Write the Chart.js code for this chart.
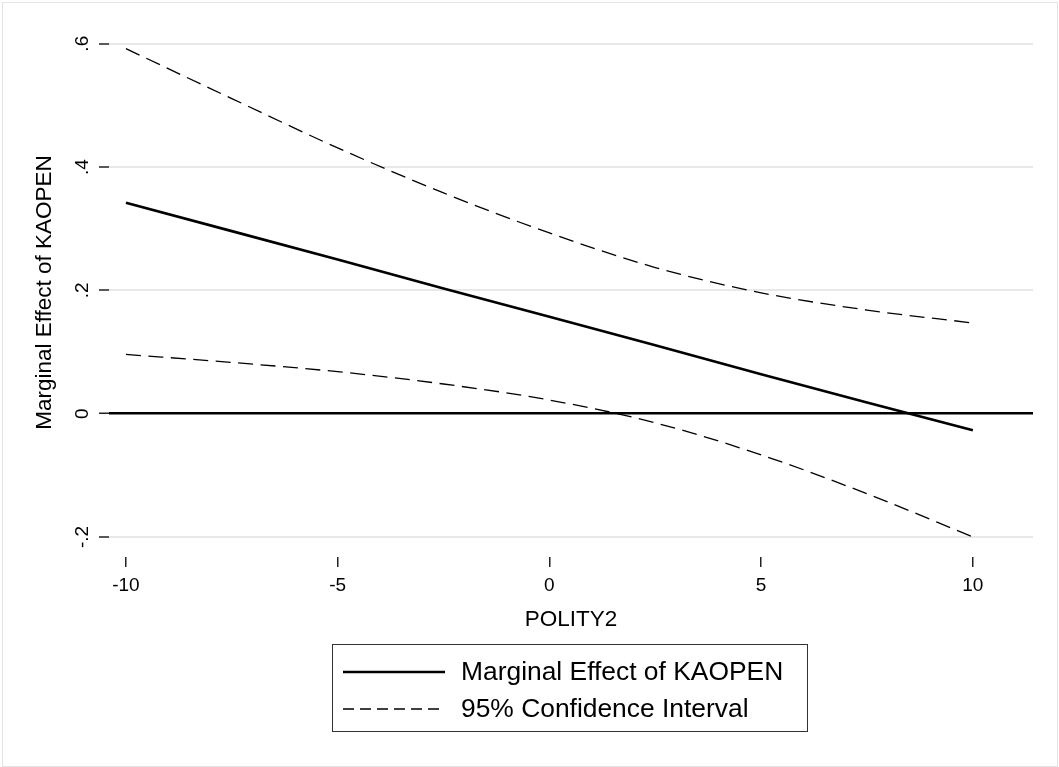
<!DOCTYPE html>
<html>
<head>
<meta charset="utf-8">
<script src="https://cdn.jsdelivr.net/npm/chart.js@4.4.1/dist/chart.umd.min.js"></script>
<style>
  html, body { margin: 0; background: #fff; }
  canvas { display: block; }
</style>
</head>
<body>
<canvas id="grafico" width="1059" height="767"></canvas>
<script>
const polity = [-10, -7.5, -5, -2.5, 0, 2.5, 5, 7.5, 10];
const marginalEffect = [0.342, 0.296, 0.250, 0.203, 0.157, 0.111, 0.064, 0.018, -0.027];
const ciUpper = [0.592, 0.511, 0.431, 0.358, 0.293, 0.237, 0.196, 0.168, 0.147];
const ciLower = [0.096, 0.083, 0.068, 0.048, 0.022, -0.015, -0.067, -0.130, -0.200];
const seriesLabels = ['Marginal Effect of KAOPEN', '95% Confidence Interval'];
const xTicks = [-10, -5, 0, 5, 10];
const yTicks = [-0.2, 0, 0.2, 0.4, 0.6];
const yTickLabels = ['-.2', '0', '.2', '.4', '.6'];

const FONT = "'Liberation Sans', Arial, Helvetica, sans-serif";
const CI_DASH = [15, 7.5];

const toPoints = (values) => polity.map((x, i) => ({ x: x, y: values[i] }));

// white background + thin frame around the whole graph
const frame = {
  id: 'frame',
  beforeDraw(chart) {
    const ctx = chart.ctx;
    ctx.save();
    ctx.fillStyle = '#fff';
    ctx.fillRect(0, 0, chart.width, chart.height);
    ctx.strokeStyle = '#e4e4e4';
    ctx.lineWidth = 1;
    ctx.strokeRect(2.5, 2.5, 1055, 764);
    ctx.restore();
  },
};

// Stata-like boxed legend under the axis title
const boxLegend = {
  id: 'boxLegend',
  afterDraw(chart) {
    const ctx = chart.ctx;
    ctx.save();
    ctx.strokeStyle = '#333';
    ctx.lineWidth = 1;
    ctx.strokeRect(332.5, 644.5, 475, 87);

    const rows = [
      { label: seriesLabels[0], dash: [], width: 2.6, y: 672 },
      { label: seriesLabels[1], dash: [11, 6], width: 1.3, y: 709 },
    ];
    rows.forEach((row) => {
      ctx.beginPath();
      ctx.setLineDash(row.dash);
      ctx.lineWidth = row.width;
      ctx.strokeStyle = '#000';
      ctx.moveTo(343, row.y);
      ctx.lineTo(445, row.y);
      ctx.stroke();
      ctx.setLineDash([]);
      ctx.fillStyle = '#000';
      ctx.font = '26.4px ' + FONT;
      ctx.textBaseline = 'middle';
      ctx.textAlign = 'left';
      ctx.fillText(row.label, 461, row.y + 1);
    });
    ctx.restore();
  },
};

new Chart(document.getElementById('grafico'), {
  type: 'line',
  data: {
    datasets: [
      {
        label: seriesLabels[0],
        data: toPoints(marginalEffect),
        borderColor: '#000',
        borderWidth: 2.6,
        pointRadius: 0,
        tension: 0,
      },
      {
        label: seriesLabels[1],
        data: toPoints(ciUpper),
        borderColor: '#000',
        borderWidth: 1.3,
        borderDash: CI_DASH,
        pointRadius: 0,
        cubicInterpolationMode: 'monotone',
      },
      {
        label: '',
        data: toPoints(ciLower),
        borderColor: '#000',
        borderWidth: 1.3,
        borderDash: CI_DASH,
        pointRadius: 0,
        cubicInterpolationMode: 'monotone',
      },
    ],
  },
  options: {
    responsive: false,
    animation: false,
    layout: { padding: { left: 0, right: 26, top: 28, bottom: 0 } },
    plugins: {
      legend: { display: false },
      tooltip: { enabled: false },
    },
    scales: {
      x: {
        type: 'linear',
        min: -10.4,
        max: 11.42,
        afterBuildTicks: (scale) => {
          scale.ticks = xTicks.map((v) => ({ value: v }));
        },
        afterFit: (scale) => {
          scale.height = 210;
        },
        border: { display: false },
        grid: {
          drawOnChartArea: false,
          drawTicks: true,
          tickLength: 10,
          color: '#222',
          lineWidth: 1.5,
        },
        ticks: {
          color: '#000',
          padding: 7,
          maxRotation: 0,
          font: { family: FONT, size: 19 },
        },
        title: {
          display: true,
          text: 'POLITY2',
          color: '#000',
          font: { family: FONT, size: 22.5 },
          padding: { top: 0, bottom: 133.5 },
        },
      },
      y: {
        min: -0.2326,
        max: 0.6255,
        afterBuildTicks: (scale) => {
          scale.ticks = yTicks.map((v) => ({ value: v }));
        },
        afterFit: (scale) => {
          scale.width = 109;
        },
        border: { display: false },
        grid: {
          drawTicks: true,
          tickLength: 10,
          tickColor: '#222',
          tickWidth: 1.5,
          color: (ctx) => (ctx.tick && ctx.tick.value === 0 ? '#000' : '#e8e8e8'),
          lineWidth: (ctx) => (ctx.tick && ctx.tick.value === 0 ? 2.5 : 2),
        },
        ticks: {
          color: '#000',
          minRotation: 90,
          maxRotation: 90,
          crossAlign: 'center',
          padding: 5.5,
          font: { family: FONT, size: 19 },
          callback: function (value, index) {
            return yTickLabels[index];
          },
        },
        title: {
          display: true,
          text: 'Marginal Effect of KAOPEN',
          color: '#000',
          font: { family: FONT, size: 22.5 },
          padding: { top: 31.5, bottom: 0 },
        },
      },
    },
  },
  plugins: [frame, boxLegend],
});
</script>
</body>
</html>
